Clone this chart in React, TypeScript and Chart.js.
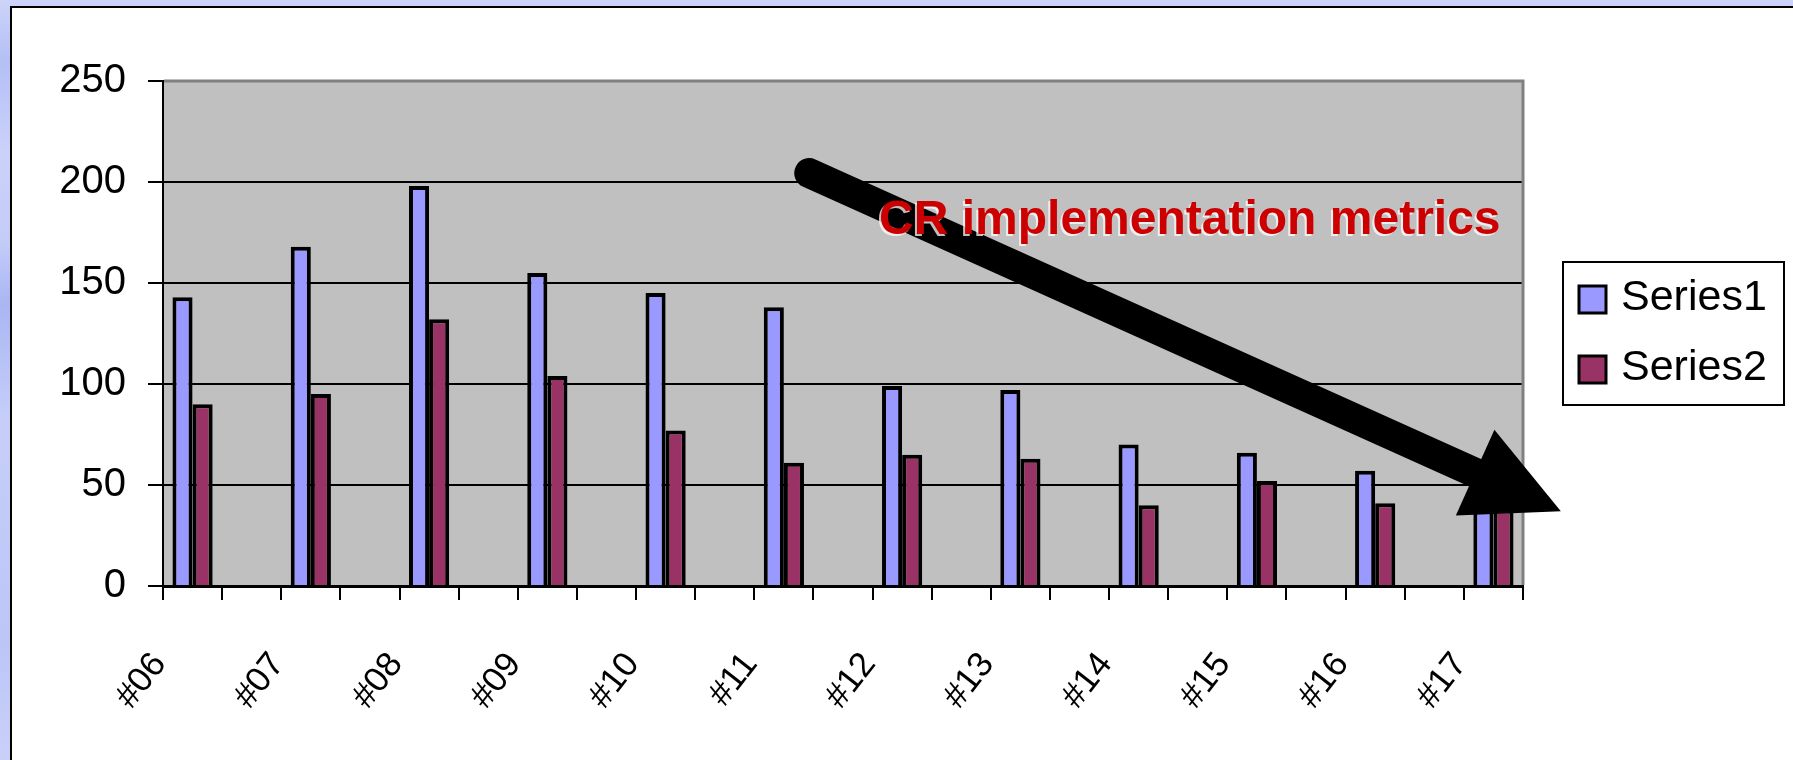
import React, { useEffect, useRef } from 'react';
import { Chart, registerables } from 'chart.js';

Chart.register(...registerables);

// ---- data ----
const releases = ['#06', '#07', '#08', '#09', '#10', '#11', '#12', '#13', '#14', '#15', '#16', '#17'];
const series1Values = [143, 168, 198, 155, 145, 138, 99, 97, 70, 66, 57, 40];
const series2Values = [90, 95, 132, 104, 77, 61, 65, 63, 40, 52, 41, 38];
const seriesNames = ['Series1', 'Series2'];
const seriesColors = ['#9999FF', '#993366'];
const yTickValues = [0, 50, 100, 150, 200, 250];
const titleText = 'CR implementation metrics';
// arrow annotation in data space: [category index, value]
const arrowFrom = [10.43, 204.4];
const arrowTo = [23.14, 37];
const titleAt = [11.61, 174.2];

// Excel layout leaves an empty category between releases
const interleave = <T,>(vals: T[], blank: T): T[] =>
  vals.flatMap((v, i) => (i < vals.length - 1 ? [v, blank] : [v]));

const FONT = '"Liberation Sans", Arial, sans-serif';

const decorPlugin = {
  id: 'decor',
  beforeDraw(chart: any) {
    const { ctx, chartArea: a } = chart;
    ctx.save();
    ctx.fillStyle = '#C0C0C0';
    ctx.fillRect(a.left, a.top, a.right - a.left, a.bottom - a.top);
    ctx.restore();
  },
  afterDraw(chart: any) {
    const { ctx, chartArea: a } = chart;
    const xs = chart.scales.x;
    const ys = chart.scales.y;
    ctx.save();
    // plot area border (top, right)
    ctx.strokeStyle = '#808080';
    ctx.lineWidth = 3;
    ctx.beginPath();
    ctx.moveTo(a.left + 1, a.top);
    ctx.lineTo(a.right, a.top);
    ctx.lineTo(a.right, a.bottom - 1);
    ctx.stroke();

    // arrow
    const sx = xs.getPixelForValue(arrowFrom[0]);
    const sy = ys.getPixelForValue(arrowFrom[1]);
    const tx = xs.getPixelForValue(arrowTo[0]);
    const ty = ys.getPixelForValue(arrowTo[1]);
    const dx = tx - sx, dy = ty - sy;
    const len = Math.hypot(dx, dy);
    const ux = dx / len, uy = dy / len;
    const nx = -uy, ny = ux;
    const headLen = 94, headHalf = 47, shaft = 30;
    const bx = tx - ux * headLen, by = ty - uy * headLen;
    ctx.strokeStyle = '#000';
    ctx.fillStyle = '#000';
    ctx.lineCap = 'round';
    ctx.lineWidth = shaft;
    ctx.beginPath();
    ctx.moveTo(sx, sy);
    ctx.lineTo(bx + ux * 4, by + uy * 4);
    ctx.stroke();
    ctx.beginPath();
    ctx.moveTo(tx, ty);
    ctx.lineTo(bx + nx * headHalf, by + ny * headHalf);
    ctx.lineTo(bx - nx * headHalf, by - ny * headHalf);
    ctx.closePath();
    ctx.fill();

    // title text
    ctx.font = `bold 48px ${FONT}`;
    ctx.textAlign = 'left';
    ctx.textBaseline = 'alphabetic';
    ctx.shadowColor = 'rgba(255,255,255,0.75)';
    ctx.shadowOffsetX = -2;
    ctx.shadowOffsetY = 2;
    ctx.fillStyle = '#CC0000';
    ctx.fillText(titleText, xs.getPixelForValue(titleAt[0]), ys.getPixelForValue(titleAt[1]));
    ctx.shadowColor = 'transparent';

    // legend
    const ds = chart.data.datasets;
    const fl = a.right + 40;
    const fw = 221;
    const rowH = 70;
    const fh = 143;
    const ft = (a.top + a.bottom) / 2 - fh / 2;
    ctx.fillStyle = '#fff';
    ctx.fillRect(fl, ft, fw, fh);
    ctx.strokeStyle = '#000';
    ctx.lineWidth = 2;
    ctx.strokeRect(fl, ft, fw, fh);
    ctx.font = `43px ${FONT}`;
    ctx.textBaseline = 'middle';
    ds.forEach((d: any, i: number) => {
      const cy = ft + 37 + i * rowH;
      ctx.fillStyle = d.backgroundColor;
      ctx.fillRect(fl + 16, cy - 13, 27, 27);
      ctx.strokeStyle = '#000';
      ctx.lineWidth = 3;
      ctx.strokeRect(fl + 16, cy - 13, 27, 27);
      ctx.fillStyle = '#000';
      ctx.fillText(d.label, fl + 58, cy - 1);
    });
    ctx.restore();
  },
};

export default function App() {
  const ref = useRef<HTMLCanvasElement>(null);
  useEffect(() => {
    if (!ref.current) return;
    const labels = interleave(releases, '');
    const chart = new Chart(ref.current, {
      type: 'bar',
      data: {
        labels,
        datasets: [
          {
            label: seriesNames[0],
            data: interleave<number | null>(series1Values, null),
            backgroundColor: seriesColors[0],
            borderColor: '#000',
            borderWidth: 4,
            categoryPercentage: 0.68,
            barPercentage: 1,
          },
          {
            label: seriesNames[1],
            data: interleave<number | null>(series2Values, null),
            backgroundColor: seriesColors[1],
            borderColor: '#000',
            borderWidth: 4,
            categoryPercentage: 0.68,
            barPercentage: 1,
          },
        ],
      },
      options: {
        responsive: false,
        animation: false,
        devicePixelRatio: 1,
        layout: { padding: { left: 59, right: 270, top: 81, bottom: 0 } },
        plugins: { legend: { display: false }, tooltip: { enabled: false } },
        scales: {
          x: {
            type: 'category',
            offset: true,
            afterFit: (s: any) => { s.height = 174; },
            grid: {
              offset: true,
              drawOnChartArea: false,
              tickLength: 14,
              color: '#000',
              lineWidth: 2,
            },
            border: { color: '#000', width: 3 },
            ticks: {
              autoSkip: false,
              minRotation: 52,
              maxRotation: 52,
              padding: 45,
              labelOffset: -33,
              color: '#000',
              font: { family: FONT, size: 35 },
            },
          },
          y: {
            min: yTickValues[0],
            max: yTickValues[yTickValues.length - 1],
            afterFit: (s: any) => { s.width = 104; },
            afterBuildTicks: (s: any) => { s.ticks = yTickValues.map((v) => ({ value: v })); },
            grid: {
              color: (c: any) => (c.tick && c.tick.value === 250 ? 'rgba(0,0,0,0)' : '#000'),
              tickColor: '#000',
              lineWidth: 2,
              tickLength: 15,
            },
            border: { color: '#000', width: 2 },
            ticks: {
              padding: 22,
              color: '#000',
              font: { family: FONT, size: 40 },
            },
          },
        },
      },
      plugins: [decorPlugin],
    } as any);
    return () => chart.destroy();
  }, []);

  return (
    <div
      style={{
        position: 'fixed',
        left: 0,
        top: 0,
        width: 1793,
        height: 760,
        overflow: 'hidden',
        background: 'linear-gradient(180deg, #cdd4fa 0%, #b4bff4 8%, #cbd2f9 20%, #c3cbf7 32%, #a9b6f2 40%, #c6cef8 55%, #bcc6f6 85%, #c9d0f8 100%)',
      }}
    >
      <div
        style={{
          position: 'absolute',
          left: 10,
          top: 6,
          width: 1820,
          height: 800,
          background: '#fff',
          border: '2px solid #000',
          boxSizing: 'border-box',
        }}
      />
      <canvas ref={ref} width={1793} height={760} style={{ position: 'absolute', left: 0, top: 0 }} />
    </div>
  );
}
